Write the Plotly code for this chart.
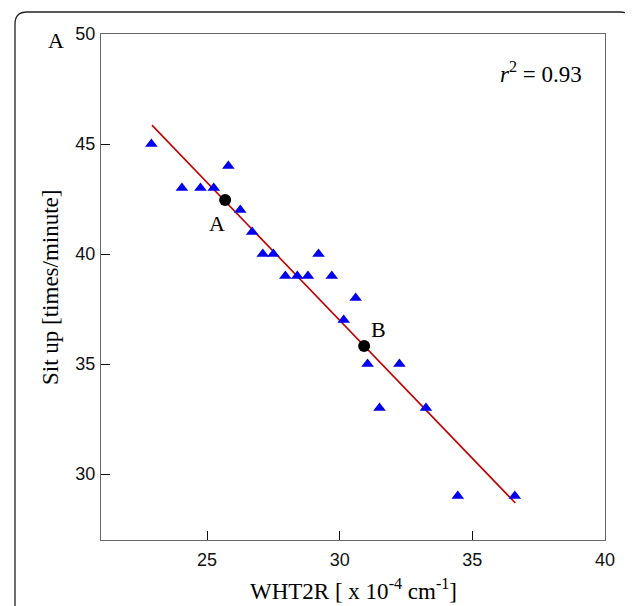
import plotly.graph_objects as go

# data
wht2r = [22.9, 24.05, 24.75, 25.25, 25.8, 26.25, 26.7, 27.1, 27.5, 27.95, 28.4, 28.8,
         29.2, 29.7, 30.15, 30.6, 31.05, 32.25, 31.5, 33.25, 34.45, 36.6]
situp = [45, 43, 43, 43, 44, 42, 41, 40, 40, 39, 39, 39,
         40, 39, 37, 38, 35, 35, 33, 33, 29, 29]
fit_x = [22.92, 36.62]
fit_y = [45.86, 28.68]
marked_x = [25.68, 30.92]
marked_y = [42.45, 35.82]
marked_labels = ["A", "B"]
label_x = [25.38, 31.45]
label_y = [41.4, 36.55]
x_ticks = [25, 30, 35, 40]
y_ticks = [30, 35, 40, 45, 50]

OFF = 8  # page body margin
W, H = 633 - OFF, 606 - OFF
L, R, T, B = 101, 605, 34, 540  # plot box in screenshot pixels

SERIF = "Liberation Serif, Times New Roman, serif"
SANS = "Liberation Sans, Arial, sans-serif"

fig = go.Figure()
fig.add_trace(go.Scatter(x=fit_x, y=fit_y, mode="lines",
                         line=dict(color="#c00000", width=1.6), showlegend=False))
fig.add_trace(go.Scatter(x=wht2r, y=situp, mode="markers",
                         marker=dict(symbol="triangle-up", size=11, color="#0000ee", line=dict(width=0)),
                         showlegend=False))
fig.add_trace(go.Scatter(x=marked_x, y=marked_y, mode="markers",
                         marker=dict(symbol="circle", size=12, color="black"), showlegend=False))

for lx, ly, t in zip(label_x, label_y, marked_labels):
    fig.add_annotation(x=lx, y=ly, text=t, showarrow=False, xanchor="center", yanchor="middle",
                       font=dict(family=SERIF, size=22, color="black"))


def px_to_paper(px, py):
    return (px - L) / (R - L), (B - py) / (B - T)


# outer rounded frame
fx0, fy0 = px_to_paper(15, 12)
fx1, fy1 = px_to_paper(632, 640)
rx = 12 / (R - L)
ry = 12 / (B - T)
path = (f"M {fx0} {fy1} L {fx0} {fy0 - ry} Q {fx0} {fy0} {fx0 + rx} {fy0} "
        f"L {fx1 - rx} {fy0} Q {fx1} {fy0} {fx1} {fy0 - ry} L {fx1} {fy1}")
fig.add_shape(type="path", path=path, xref="paper", yref="paper",
              line=dict(color="#222", width=1.3), layer="below")


def note(px, py, text, size, angle=0, family=SERIF):
    x, y = px_to_paper(px, py)
    fig.add_annotation(x=x, y=y, xref="paper", yref="paper", showarrow=False,
                       xanchor="center", yanchor="middle", text=text, textangle=angle,
                       font=dict(family=family, size=size, color="black"))


note(541, 72, "<i>r</i><sup>2</sup> = 0.93", 23)
note(56, 40, "A", 22)
note(353, 589, "WHT2R [ x 10<sup>-4</sup> cm<sup>-1</sup>]", 23)
note(50, 287, "Sit up [times/minute]", 23, angle=-90)

axis_common = dict(showgrid=False, zeroline=False, showline=True, mirror=True,
                   linecolor="#666", linewidth=1.3, ticks="inside", ticklen=9,
                   tickcolor="#111", tickwidth=1.3,
                   tickfont=dict(family=SANS, size=18, color="#111"))
fig.update_xaxes(range=[21, 40], tickvals=x_ticks, ticklabelstandoff=3, **axis_common)
fig.update_yaxes(range=[27, 50], tickvals=y_ticks, ticklabelstandoff=1, **axis_common)

fig.update_layout(width=W, height=H,
                  margin=dict(l=L - OFF, r=W - (R - OFF), t=T - OFF, b=H - (B - OFF)),
                  plot_bgcolor="white", paper_bgcolor="white", showlegend=False)

fig.write_html("out.html")
